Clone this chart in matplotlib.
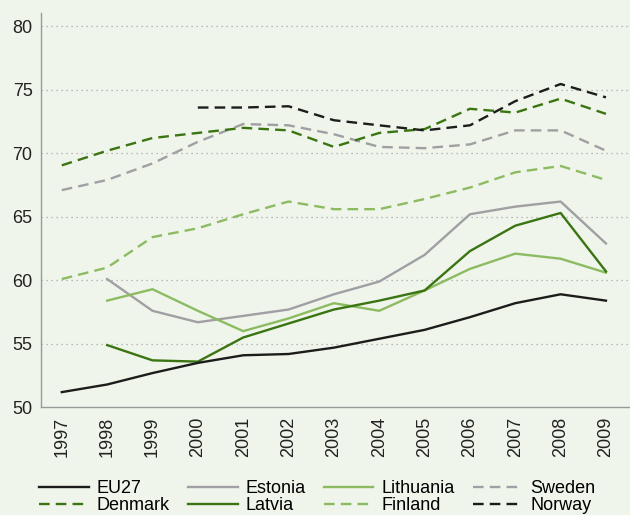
import matplotlib
matplotlib.use("Agg")
import matplotlib.pyplot as plt

years = list(range(1997, 2010))

eu27 = [51.2, 51.8, 52.7, 53.5, 54.1, 54.2, 54.7, 55.4, 56.1, 57.1, 58.2, 58.9, 58.4]
estonia = [None, 60.1, 57.6, 56.7, 57.2, 57.7, 58.9, 59.9, 62.0, 65.2, 65.8, 66.2, 62.9]
lithuania = [None, 58.4, 59.3, 57.6, 56.0, 57.0, 58.2, 57.6, 59.2, 60.9, 62.1, 61.7, 60.6]
sweden = [67.1, 67.9, 69.2, 70.9, 72.3, 72.2, 71.5, 70.5, 70.4, 70.7, 71.8, 71.8, 70.2]
denmark = [69.05, 70.2, 71.2, 71.6, 72.0, 71.8, 70.5, 71.6, 71.9, 73.5, 73.2, 74.3, 73.1]
latvia = [None, 54.9, 53.7, 53.6, 55.5, 56.6, 57.7, 58.4, 59.2, 62.3, 64.3, 65.3, 60.7]
finland = [60.1, 61.0, 63.4, 64.1, 65.2, 66.2, 65.6, 65.6, 66.4, 67.3, 68.5, 69.0, 67.9]
norway = [None, None, None, 73.6, 73.6, 73.7, 72.6, 72.2, 71.8, 72.2, 74.1, 75.45, 74.4]

yticks = [50, 55, 60, 65, 70, 75, 80]

plt.rcParams['font.family'] = ['Liberation Sans', 'DejaVu Sans']

bg = '#eff5ea'
black = '#1c1c1c'
grey = '#a09fa3'
light_green = '#8dbb62'
dark_green = '#3b7412'

fig = plt.figure(figsize=(6.3, 5.15), dpi=100, facecolor=bg)
ax = fig.add_axes([0.065, 0.209, 0.935, 0.766], facecolor=bg)

dash = (4.5, 2.6)
series = [
    ("EU27", eu27, black, None),
    ("Denmark", denmark, dark_green, dash),
    ("Estonia", estonia, grey, None),
    ("Latvia", latvia, dark_green, None),
    ("Lithuania", lithuania, light_green, None),
    ("Finland", finland, light_green, dash),
    ("Sweden", sweden, grey, dash),
    ("Norway", norway, black, dash),
]

draw_order = ["Finland", "Sweden", "Denmark", "Norway", "Estonia", "Lithuania", "Latvia", "EU27"]
handles = {}
for name, vals, col, ds in series:
    xs = [y for y, v in zip(years, vals) if v is not None]
    vs = [v for v in vals if v is not None]
    kw = dict(color=col, lw=1.7, label=name, zorder=3 + draw_order.index(name) * 0.1)
    if ds is not None:
        kw['dashes'] = ds
    line, = ax.plot(xs, vs, **kw)
    handles[name] = line

ax.set_xlim(1996.54, 2009.53)
ax.set_ylim(50, 81.05)
ax.set_yticks(yticks)
ax.set_xticks(years)
ax.set_xticklabels([str(y) for y in years], rotation=90)
ax.tick_params(length=0, labelsize=13, colors='#222222')
ax.tick_params(axis='y', pad=6)
ax.tick_params(axis='x', pad=7)

for y in yticks[1:]:
    ax.axhline(y, color='#a8a8a8', lw=0.9, ls=(0, (1, 3)), zorder=1)

for s in ['top', 'right']:
    ax.spines[s].set_visible(False)
for s in ['left', 'bottom']:
    ax.spines[s].set_color('#9a9a9a')
    ax.spines[s].set_linewidth(1.0)

order = ["EU27", "Denmark", "Estonia", "Latvia", "Lithuania", "Finland", "Sweden", "Norway"]
fig.legend([handles[n] for n in order], order, ncol=4, loc='lower left',
           bbox_to_anchor=(0.056, -0.006), frameon=False, fontsize=13,
           handlelength=2.75, handletextpad=0.45, columnspacing=1.0,
           labelspacing=0.0, borderaxespad=0, borderpad=0.2)

fig.savefig("out.png", dpi=100, facecolor=bg)
